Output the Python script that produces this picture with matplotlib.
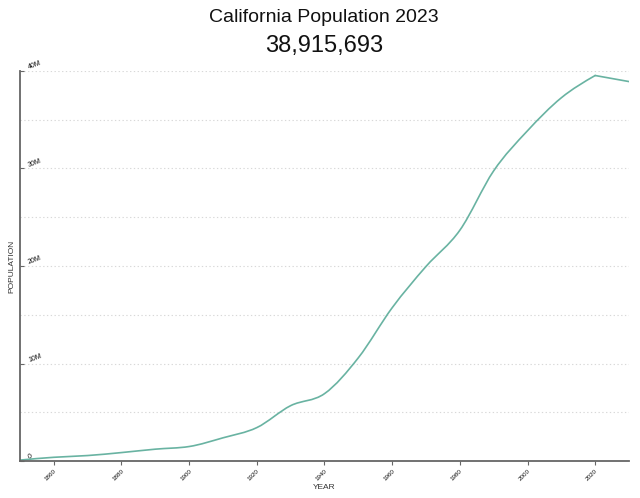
import matplotlib.pyplot as plt
from matplotlib.path import Path
from matplotlib.patches import PathPatch
from matplotlib.ticker import FuncFormatter, MultipleLocator
import numpy as np

plt.rcParams['font.family'] = ['Liberation Sans', 'DejaVu Sans']

# census counts, plus the 2023 estimate
years = ['1850', '1860', '1870', '1880', '1890', '1900', '1910', '1920', '1930',
         '1940', '1950', '1960', '1970', '1980', '1990', '2000', '2010', '2020', '2023']
population = [92597, 379994, 560247, 864694, 1213398, 1485053, 2377549, 3426861,
              5677251, 6907387, 10586223, 15717204, 19953134, 23667902, 29760021,
              33871648, 37253956, 39538223, 38915693]
title = 'California Population 2023'
headline = '38,915,693'

LINE = '#69b3a2'
AXIS = '#666666'


def monotone_path(x, y):
    # bezier segments like d3.curveMonotoneX
    x = np.asarray(x, float)
    y = np.asarray(y, float)
    n = len(x)
    h = np.diff(x)
    s = np.diff(y) / h
    t = np.zeros(n)
    for i in range(1, n - 1):
        s0, s1 = s[i - 1], s[i]
        p = (s0 * h[i] + s1 * h[i - 1]) / (h[i - 1] + h[i])
        t[i] = (np.sign(s0) + np.sign(s1)) * min(abs(s0), abs(s1), 0.5 * abs(p))
    t[0] = (3 * s[0] - t[1]) / 2
    t[-1] = (3 * s[-1] - t[-2]) / 2
    verts = [(x[0], y[0])]
    codes = [Path.MOVETO]
    for i in range(n - 1):
        dx = h[i] / 3
        verts += [(x[i] + dx, y[i] + dx * t[i]),
                  (x[i + 1] - dx, y[i + 1] - dx * t[i + 1]),
                  (x[i + 1], y[i + 1])]
        codes += [Path.CURVE4] * 3
    return Path(verts, codes)


fig = plt.figure(figsize=(6.4, 4.98), dpi=100)
ax = fig.add_axes([20 / 640, 37 / 498, 609 / 640, 390 / 498])

xs = np.arange(len(years))
# smooth through the census years, then a straight drop to the latest estimate
ax.add_patch(PathPatch(monotone_path(xs[:-1], population[:-1]), facecolor='none',
                       edgecolor=LINE, linewidth=1.2, capstyle='round'))
ax.plot(xs[-2:], population[-2:], color=LINE, linewidth=1.2, solid_capstyle='round')
ax.set_xlim(0, len(years) - 1)
ax.set_ylim(0, 40e6)

ax.set_xticks(xs[1::2])
ax.set_xticklabels(years[1::2])
ax.yaxis.set_major_locator(MultipleLocator(10e6))
ax.yaxis.set_minor_locator(MultipleLocator(5e6))
ax.yaxis.set_major_formatter(FuncFormatter(lambda v, _: '0' if v == 0 else f'{int(v / 1e6)}M'))

ax.grid(axis='y', which='both', color='#d8d8d8', linestyle=(0, (1.2, 2.2)), linewidth=0.8)
ax.set_axisbelow(True)

for side in ['top', 'right']:
    ax.spines[side].set_visible(False)
for side in ['left', 'bottom']:
    ax.spines[side].set_color(AXIS)
    ax.spines[side].set_linewidth(1.3)

ax.tick_params(axis='x', length=3, width=0.8, color=AXIS, pad=2, labelsize=4.5, labelcolor='#111111')
ax.tick_params(axis='y', which='major', direction='in', length=3, width=0.8, color=AXIS,
               pad=-7, labelsize=5, labelcolor='#111111')
ax.tick_params(axis='y', which='minor', length=0)
for lab in ax.get_xticklabels():
    lab.set_rotation(45)
    lab.set_rotation_mode('anchor')
    lab.set_ha('right')
    lab.set_va('top')
for lab in ax.get_yticklabels():
    lab.set_rotation(20)
    lab.set_rotation_mode('anchor')
    lab.set_ha('left')
    lab.set_va('bottom')

ax.set_xlabel('YEAR', fontsize=6, color='#333333')
ax.xaxis.set_label_coords(0.5, -(484 - 461) / 390)
ax.set_ylabel('POPULATION', fontsize=6, color='#333333')
ax.yaxis.set_label_coords(-(20 - 15) / 609, 0.5)

fig.text(0.506, 1 - 22 / 498, title, ha='center', va='baseline', fontsize=14, color='#111111')
fig.text(0.506, 1 - 52 / 498, headline, ha='center', va='baseline', fontsize=17, color='#111111')

fig.savefig('out.png', dpi=100)
